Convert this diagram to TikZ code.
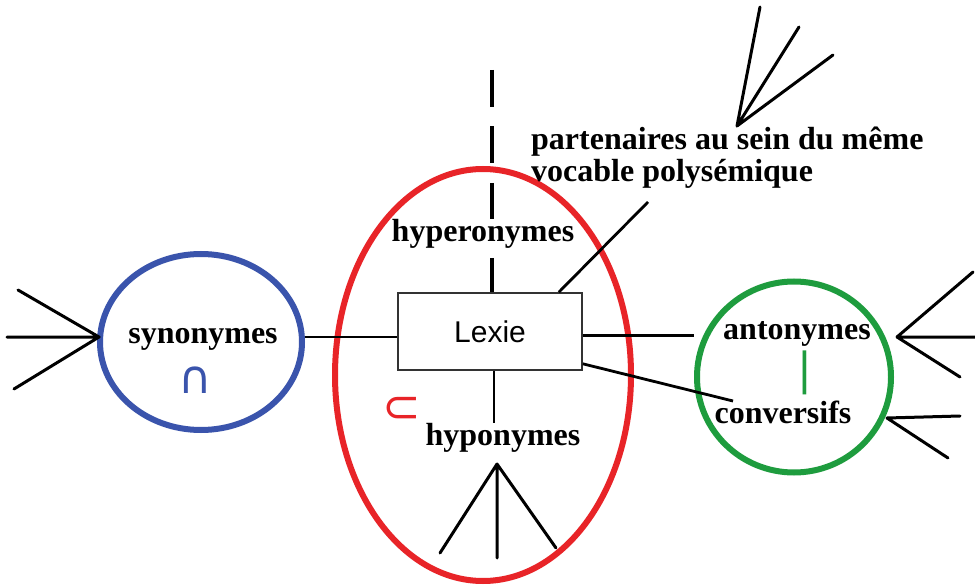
\documentclass[tikz,border=0pt]{standalone}
\usepackage{fontspec}
\setmainfont{Liberation Serif}
\newfontfamily\lexfont{Liberation Sans}
\newfontfamily\symfont{DejaVu Sans}
\usetikzlibrary{shapes.geometric}
\definecolor{ringblue}{RGB}{58,84,172}
\definecolor{ringred}{RGB}{232,36,40}
\definecolor{ringgreen}{RGB}{30,156,62}
\begin{document}
\begin{tikzpicture}[x=1pt,y=-1pt,
  ring/.style={ellipse,draw,line width=6pt,inner sep=0pt},
  lbl/.style={font=\fontsize{32}{32}\selectfont\bfseries,inner sep=0pt,anchor=base},
  spoke/.style={line width=3pt,line cap=round},
  link/.style={line width=2.8pt},
  sym/.style={font=\symfont\fontsize{46}{46}\selectfont,inner sep=0pt}]
\useasboundingbox (0,0) rectangle (975,588);
\fill[white] (0,0) rectangle (975,588);
% rings
\node[ring,draw=ringblue,minimum width=202pt,minimum height=176pt] (syn) at (201,342) {};
\node[ring,draw=ringred,minimum width=296pt,minimum height=412pt] (hyp) at (483,375) {};
\node[ring,draw=ringgreen,minimum width=194pt,minimum height=191pt] (ant) at (794,377) {};
% box
\node[draw=black!80,line width=1.6pt,fill=white,minimum width=184pt,minimum height=77pt,inner sep=0pt,
  font=\lexfont\fontsize{30}{30}\selectfont] (lexie) at (490,331.5) {Lexie};
% labels
\node[lbl] (tsyn) at (203,343) {synonymes};
\node[lbl] (thyper) at (483,242) {hyperonymes};
\node[lbl] (thypo) at (503,445) {hyponymes};
\node[lbl] (tant) at (797,339) {antonymes};
\node[lbl] (tconv) at (783,423) {conversifs};
\node[lbl,anchor=base west,align=left,font=\fontsize{32}{32}\selectfont\bfseries] (tpart) at (531,182) {partenaires au sein du même\\vocable polysémique};
\node[sym,text=ringblue] (cap) at (195,380) {∩};
\node[sym,text=ringred] (sub) at (402,410) {⊂};
\node[sym,text=ringgreen,font=\symfont\fontsize{44}{44}\selectfont] (bar) at (805,373) {|};
% vertical hyperonym axis
\coordinate (vtop) at (492,70);
\coordinate (vmid) at (492,219);
\coordinate (vlow) at (492,258);
\draw[line width=4.6pt,dash pattern=on 37pt off 19.5pt] (vtop) -- (vmid);
\draw[line width=4.6pt] (vlow) -- (vlow |- lexie.north);
% links from Lexie
\coordinate (lw) at ([yshift=-5.5pt]lexie.west);
\draw[link] (syn.east |- lw) -- (lw);
\coordinate (le) at ([yshift=-4pt]lexie.east);
\draw[link] (le) -- (ant.west |- le);
\coordinate (convEnd) at (733,401);
\draw[link] ([yshift=7pt]lexie.south east) -- (convEnd);
\coordinate (partEnd) at (648,202);
\draw[link] ([xshift=-24pt]lexie.north east) -- (partEnd);
\draw[link] ([xshift=4pt]lexie.south) -- ([xshift=4pt]lexie.south |- thypo.north);
% fans
\coordinate (fl) at (99,337);
\draw[spoke] (fl) -- (18,290) (fl) -- (7,337) (fl) -- (14,389);
\coordinate (ft) at (737,126);
\draw[spoke] (ft) -- (760,7) (ft) -- (799,27) (ft) -- (833,55);
\coordinate (fr1) at (897,337);
\draw[spoke] (fr1) -- (973,272) (fr1) -- (975,337) (fr1) -- (960,377);
\coordinate (fr2) at (887,418);
\draw[spoke] (fr2) -- (960,416) (fr2) -- (948,458);
\coordinate (fb) at (497,464);
\draw[spoke] (fb) -- (440,553) (fb) -- (497,558) (fb) -- (556,548);
\end{tikzpicture}
\end{document}
